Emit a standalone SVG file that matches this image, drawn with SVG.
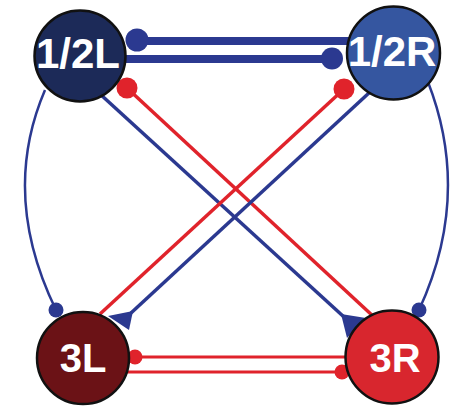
<svg xmlns="http://www.w3.org/2000/svg" width="461" height="411" viewBox="0 0 461 411">
<style>
.b{stroke:#2b3990;fill:none}
.r{stroke:#e0232b;fill:none}
.bf{fill:#2b3990}
.rf{fill:#e0232b}
.node{stroke:#111;stroke-width:2.5}
.lbl{font-family:"Liberation Sans",Arial,sans-serif;font-weight:bold;fill:#fff;text-anchor:middle}
</style>
<rect width="461" height="411" fill="#fff"/>
<g id="connectors">
  <!-- top thick bars -->
  <line class="b" x1="137" y1="41" x2="380" y2="41" stroke-width="8"/>
  <circle class="bf" cx="137" cy="40" r="11.5"/>
  <line class="b" x1="100" y1="59" x2="332" y2="59" stroke-width="8"/>
  <circle class="bf" cx="332" cy="58.5" r="11"/>
  <!-- side curves -->
  <path class="b" d="M45,90 Q0,195 56,310" stroke-width="2.5"/>
  <circle class="bf" cx="56" cy="310" r="7.5"/>
  <path class="b" d="M428,82 Q472,195 419,310" stroke-width="2.5"/>
  <circle class="bf" cx="419" cy="310" r="7.5"/>
  <!-- cross lines -->
  <line class="r" x1="127" y1="88" x2="374" y2="317" stroke-width="3.5"/>
  <circle class="rf" cx="127" cy="88" r="10.5"/>
  <line class="b" x1="100" y1="94" x2="344" y2="317" stroke-width="3.5"/>
  <polygon class="bf" points="341,314 366,318 347,338"/>
  <line class="r" x1="344" y1="89" x2="100" y2="314" stroke-width="3.5"/>
  <circle class="rf" cx="344" cy="89" r="10.5"/>
  <line class="b" x1="370" y1="92" x2="131" y2="313" stroke-width="3.5"/>
  <polygon class="bf" points="133,311 108,316 129,330"/>
  <!-- bottom red bars -->
  <line class="r" x1="135" y1="357" x2="360" y2="357" stroke-width="3"/>
  <circle class="rf" cx="135" cy="357" r="7.5"/>
  <line class="r" x1="110" y1="372" x2="342" y2="372" stroke-width="3"/>
  <circle class="rf" cx="342" cy="372" r="7.5"/>
</g>
<g id="n12L">
  <circle class="node" cx="80" cy="56" r="45.5" fill="#1c2a58"/>
  <text class="lbl" x="78" y="68" font-size="42">1/2L</text>
</g>
<g id="n12R">
  <circle class="node" cx="393.5" cy="53" r="46.5" fill="#3556a0"/>
  <text class="lbl" x="392" y="66" font-size="42">1/2R</text>
</g>
<g id="n3L">
  <circle class="node" cx="83" cy="358" r="46" fill="#6b1216"/>
  <text class="lbl" x="83" y="372" font-size="40">3L</text>
</g>
<g id="n3R">
  <circle class="node" cx="392" cy="357" r="46.5" fill="#d8262e"/>
  <text class="lbl" x="395" y="372" font-size="40">3R</text>
</g>
</svg>
